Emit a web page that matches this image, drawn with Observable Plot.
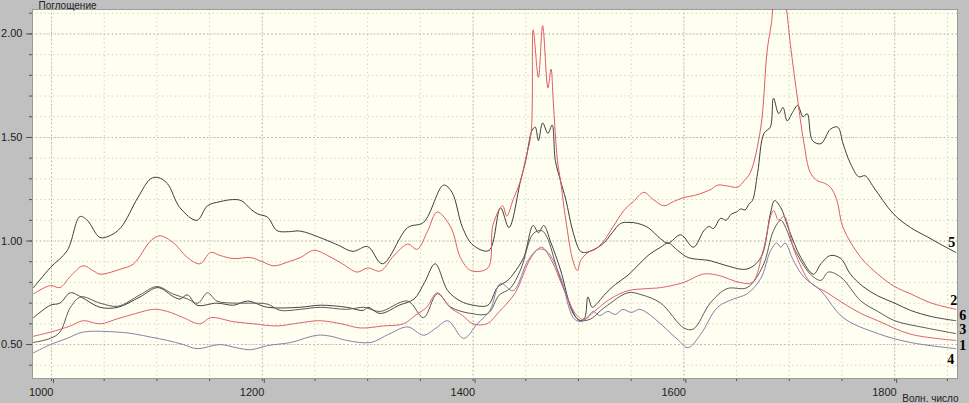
<!DOCTYPE html>
<html><head><meta charset="utf-8">
<script src="https://cdn.jsdelivr.net/npm/d3@7"></script>
<script src="https://cdn.jsdelivr.net/npm/@observablehq/plot@0.6"></script>
<style>
html,body{margin:0;padding:0;background:#c0c0c0;}
#chart{width:969px;height:403px;overflow:hidden;}
</style></head><body><div id="chart"></div>
<script>
// ---- data: wavenumber (cm-1), absorbance ----
const xMajor = [1000, 1200, 1400, 1600, 1800];
const xMinor = [1000, 1050, 1100, 1150, 1200, 1250, 1300, 1350, 1400, 1450, 1500, 1550, 1600, 1650, 1700, 1750, 1800, 1850];
const yMajor = [0.5, 1.0, 1.5, 2.0];
const yMinor = [0.4, 0.5, 0.6, 0.7, 0.8, 0.9, 1.0, 1.1, 1.2, 1.3, 1.4, 1.5, 1.6, 1.7, 1.8, 1.9, 2.0, 2.1];
const seriesNames = ["5", "2", "6", "3", "1", "4"];

const s5 = [[983,0.775],[999,0.872],[1015,0.954],[1027,1.118],[1034,1.10],[1046,1.017],[1056,1.027],[1066,1.066],[1082,1.21],[1094,1.30],[1101,1.307],[1110,1.277],[1122,1.16],[1138,1.10],[1148,1.17],[1160,1.19],[1172,1.20],[1180,1.195],[1190,1.15],[1196,1.13],[1205,1.115],[1214,1.05],[1225,1.045],[1236,1.048],[1258,1.01],[1272,0.98],[1286,0.95],[1300,0.973],[1314,0.89],[1338,1.065],[1353,1.09],[1372,1.27],[1380,1.235],[1390,1.065],[1400,0.98],[1415,0.954],[1426,1.16],[1434,1.065],[1445,1.29],[1450,1.39],[1456,1.535],[1459,1.55],[1462,1.485],[1466,1.57],[1471,1.52],[1475,1.56],[1478,1.39],[1483,1.29],[1488,1.20],[1495,1.04],[1502,0.95],[1507,0.945],[1515,0.96],[1524,0.99],[1532,1.04],[1540,1.085],[1548,1.09],[1556,1.085],[1566,1.065],[1578,1.01],[1585,0.99],[1597,1.03],[1609,0.97],[1619,1.05],[1624,1.07],[1628,1.06],[1635,1.11],[1640,1.10],[1645,1.13],[1650,1.14],[1654,1.155],[1658,1.15],[1662,1.18],[1665,1.195],[1670,1.33],[1676,1.52],[1682,1.55],[1685,1.69],[1690,1.615],[1694,1.645],[1698,1.58],[1703,1.62],[1708,1.655],[1713,1.60],[1717,1.615],[1722,1.485],[1730,1.47],[1739,1.54],[1746,1.55],[1751,1.47],[1758,1.375],[1766,1.31],[1772,1.315],[1780,1.26],[1799,1.13],[1815,1.065],[1831,1.02],[1845,0.98],[1858,0.945]];

const s2 = [[983,0.745],[999,0.785],[1008,0.775],[1018,0.83],[1030,0.88],[1040,0.855],[1046,0.84],[1066,0.865],[1078,0.89],[1094,1.0],[1103,1.025],[1116,0.99],[1129,0.92],[1141,0.89],[1151,0.945],[1160,0.93],[1173,0.915],[1189,0.92],[1200,0.90],[1211,0.88],[1225,0.90],[1236,0.92],[1249,0.955],[1262,0.93],[1276,0.89],[1290,0.85],[1300,0.87],[1312,0.855],[1325,0.93],[1338,0.985],[1347,0.96],[1357,1.05],[1366,1.14],[1379,1.065],[1388,0.92],[1398,0.857],[1414,0.87],[1419,1.08],[1428,1.17],[1432,1.12],[1438,1.20],[1445,1.29],[1450,1.40],[1455,1.52],[1457,2.02],[1462,1.79],[1466,2.04],[1471,1.74],[1474,1.83],[1476,1.68],[1480,1.39],[1483,1.29],[1488,1.10],[1495,0.90],[1499,0.857],[1502,0.905],[1509,0.945],[1516,0.96],[1524,1.0],[1533,1.07],[1543,1.147],[1552,1.19],[1562,1.235],[1571,1.20],[1581,1.17],[1590,1.19],[1600,1.21],[1610,1.22],[1619,1.235],[1626,1.25],[1632,1.27],[1642,1.265],[1651,1.26],[1657,1.29],[1663,1.33],[1673,1.55],[1679,1.92],[1683,2.05],[1688,2.25],[1693,2.22],[1697,2.13],[1701,1.95],[1708,1.68],[1714,1.47],[1720,1.33],[1727,1.29],[1733,1.28],[1739,1.26],[1745,1.20],[1751,1.065],[1768,0.92],[1784,0.84],[1800,0.78],[1815,0.745],[1835,0.70],[1858,0.67]];

const s6 = [[983,0.63],[999,0.69],[1008,0.70],[1018,0.75],[1028,0.73],[1046,0.68],[1063,0.68],[1084,0.73],[1101,0.775],[1116,0.73],[1122,0.72],[1129,0.74],[1138,0.69],[1157,0.70],[1173,0.69],[1186,0.71],[1205,0.68],[1236,0.68],[1255,0.69],[1280,0.68],[1296,0.665],[1300,0.68],[1312,0.65],[1330,0.69],[1344,0.72],[1354,0.80],[1364,0.89],[1376,0.76],[1388,0.71],[1400,0.69],[1414,0.69],[1423,0.775],[1433,0.81],[1438,0.84],[1448,0.92],[1457,1.075],[1462,1.04],[1467,1.075],[1474,0.99],[1483,0.86],[1495,0.65],[1502,0.615],[1506,0.63],[1509,0.73],[1513,0.68],[1518,0.70],[1524,0.737],[1535,0.79],[1547,0.835],[1556,0.88],[1566,0.93],[1578,0.97],[1585,0.99],[1594,0.955],[1604,0.92],[1625,0.905],[1641,0.88],[1660,0.865],[1673,0.92],[1682,1.13],[1686,1.195],[1692,1.16],[1700,1.05],[1711,0.92],[1723,0.84],[1730,0.89],[1739,0.93],[1749,0.915],[1758,0.84],[1770,0.78],[1784,0.735],[1800,0.70],[1815,0.665],[1835,0.635],[1858,0.615]];

const s3 = [[983,0.51],[999,0.53],[1008,0.56],[1018,0.68],[1028,0.73],[1046,0.70],[1063,0.685],[1084,0.74],[1100,0.78],[1115,0.745],[1129,0.72],[1139,0.70],[1148,0.75],[1157,0.71],[1173,0.70],[1188,0.70],[1205,0.695],[1217,0.665],[1236,0.67],[1255,0.68],[1280,0.67],[1296,0.68],[1300,0.675],[1312,0.66],[1338,0.71],[1353,0.63],[1366,0.745],[1379,0.68],[1398,0.65],[1414,0.65],[1425,0.74],[1435,0.77],[1445,0.86],[1457,1.035],[1465,1.05],[1470,1.02],[1480,0.86],[1490,0.72],[1500,0.62],[1510,0.62],[1525,0.68],[1547,0.75],[1560,0.74],[1578,0.70],[1600,0.58],[1609,0.575],[1625,0.70],[1641,0.77],[1660,0.775],[1675,0.88],[1685,1.05],[1692,1.10],[1697,1.06],[1704,0.97],[1720,0.84],[1730,0.81],[1737,0.85],[1749,0.825],[1768,0.71],[1784,0.66],[1800,0.615],[1830,0.58],[1858,0.553]];

const s1 = [[983,0.54],[999,0.56],[1018,0.59],[1030,0.615],[1046,0.60],[1063,0.625],[1080,0.65],[1097,0.67],[1110,0.66],[1125,0.63],[1141,0.60],[1151,0.63],[1173,0.61],[1192,0.60],[1214,0.59],[1236,0.605],[1255,0.615],[1275,0.60],[1293,0.58],[1315,0.59],[1334,0.60],[1345,0.64],[1356,0.68],[1366,0.75],[1378,0.68],[1390,0.64],[1400,0.60],[1413,0.60],[1425,0.66],[1440,0.75],[1455,0.92],[1465,0.97],[1475,0.90],[1485,0.78],[1497,0.65],[1505,0.62],[1515,0.66],[1530,0.72],[1547,0.76],[1565,0.77],[1578,0.775],[1600,0.80],[1618,0.84],[1632,0.835],[1653,0.80],[1665,0.80],[1675,0.95],[1685,1.147],[1690,1.10],[1695,1.12],[1705,0.95],[1720,0.80],[1736,0.75],[1751,0.70],[1768,0.65],[1784,0.615],[1815,0.55],[1858,0.52]];

const s4 = [[983,0.46],[999,0.50],[1015,0.53],[1030,0.56],[1063,0.56],[1080,0.55],[1095,0.535],[1110,0.52],[1125,0.50],[1138,0.48],[1160,0.50],[1175,0.485],[1189,0.475],[1205,0.495],[1227,0.51],[1252,0.545],[1265,0.54],[1280,0.52],[1303,0.51],[1320,0.55],[1338,0.585],[1353,0.545],[1365,0.58],[1376,0.615],[1391,0.53],[1404,0.60],[1416,0.665],[1426,0.795],[1438,0.76],[1452,0.905],[1462,0.96],[1470,0.95],[1483,0.825],[1495,0.63],[1502,0.61],[1508,0.63],[1514,0.66],[1520,0.64],[1528,0.66],[1535,0.645],[1542,0.67],[1550,0.655],[1558,0.67],[1566,0.65],[1580,0.59],[1595,0.52],[1604,0.485],[1616,0.55],[1632,0.68],[1647,0.72],[1660,0.745],[1673,0.82],[1682,0.95],[1688,0.99],[1692,0.97],[1696,0.99],[1704,0.905],[1714,0.825],[1730,0.76],[1751,0.63],[1784,0.553],[1815,0.51],[1858,0.48]];

// ---- build table ----
const seriesData = [s5, s2, s6, s3, s1, s4];
const rows = [];
seriesData.forEach((arr, i) => arr.forEach(([w, v]) => rows.push({s: seriesNames[i], w, v})));

// ---- styles ----
const colors = {"5": "#3d3d3d", "2": "#e35a62", "6": "#424242", "3": "#5a5a5a", "1": "#dd6070", "4": "#8a7daa"};
const labelOffsets = {"5": [-4, -10], "2": [-2, -9], "6": [7, -5], "3": [7, -4], "1": [7, 5], "4": [-5, 11]};

const marks = [
  Plot.frame({fill: "#fffff1", stroke: null}),
  Plot.ruleX(xMinor, {stroke: "#c9c9c2", strokeDasharray: "1.2,3"}),
  Plot.ruleY(yMinor, {stroke: "#c9c9c2", strokeDasharray: "1.2,3"}),
  Plot.ruleX(xMajor, {stroke: "#b0b0aa", strokeDasharray: "1.2,2.6"}),
  Plot.ruleY(yMajor, {stroke: "#b0b0aa", strokeDasharray: "1.2,2.6"}),
  Plot.axisX(xMinor, {label: null, tickSize: 3, tickFormat: () => "", stroke: "#555"}),
  Plot.axisX(xMajor, {label: null, tickSize: 5, tickPadding: 5, textAnchor: "end", dx: 2, tickFormat: d => String(d), stroke: "#555", fill: "#222", fontSize: 11}),
  Plot.axisY(yMinor, {label: null, tickSize: 3, tickFormat: () => "", stroke: "#555"}),
  Plot.axisY(yMajor, {label: null, tickSize: 6, tickPadding: 4, tickFormat: d => d.toFixed(2), stroke: "#555", fill: "#222", fontSize: 11}),
  Plot.frame({stroke: "#9a9a9a"})
];
for (const name of seriesNames) {
  const data = rows.filter(r => r.s === name);
  marks.push(Plot.line(data, {x: "w", y: "v", stroke: colors[name], strokeWidth: 1, curve: "catmull-rom", clip: true}));
}
for (const name of seriesNames) {
  const data = rows.filter(r => r.s === name);
  const [dx, dy] = labelOffsets[name];
  marks.push(Plot.text(data, Plot.selectLast({x: "w", y: "v", text: "s", dx, dy, fontFamily: "Liberation Serif, Times New Roman, serif", fontWeight: "bold", fontSize: 14, fill: "#000"})));
}
marks.push(Plot.text(["Поглощение"], {frameAnchor: "top-left", dx: 6, dy: -1, lineAnchor: "bottom", textAnchor: "start", fontSize: 10, fill: "#222"}));
marks.push(Plot.text(["Волн. число"], {frameAnchor: "bottom-right", dx: 1, dy: 23, lineAnchor: "bottom", textAnchor: "end", fontSize: 10, fill: "#222"}));

const chart = Plot.plot({
  width: 969, height: 403,
  marginLeft: 32, marginRight: 12, marginTop: 9, marginBottom: 25,
  x: {domain: [982, 1859.6], axis: null},
  y: {domain: [0.336, 2.118], axis: null},
  style: {background: "transparent", fontFamily: "Liberation Sans, Arial, sans-serif", fontSize: "11px", color: "#222"},
  marks
});
document.getElementById("chart").appendChild(chart);
</script></body></html>
